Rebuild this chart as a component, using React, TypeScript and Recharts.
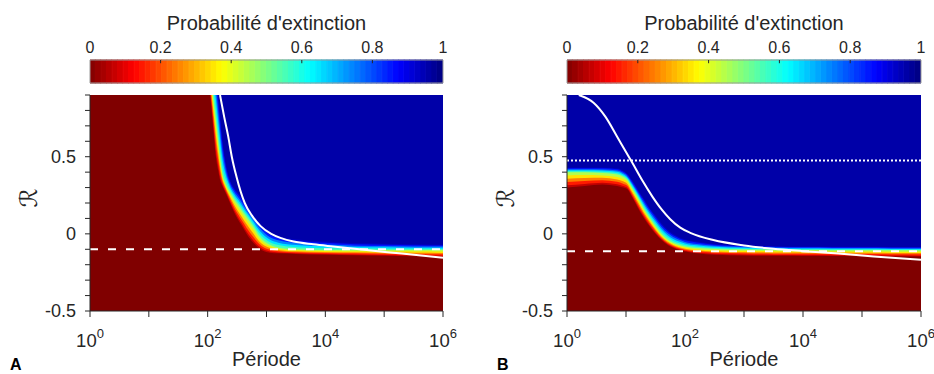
import { Area, Bar, CartesianGrid, Cell, ComposedChart, ReferenceLine, Scatter, XAxis, YAxis } from "recharts";

const POLICE = "'Liberation Sans', Arial, Helvetica, sans-serif";
const ENCRE = "#262626";

// axes
const PROBA_TICKS = [0, 0.2, 0.4, 0.6, 0.8, 1];
const PERIODE_TICKS = [1, 10, 100, 1e3, 1e4, 1e5, 1e6];
const R_TICKS = [-0.5, -0.4, -0.3, -0.2, -0.1, 0, 0.1, 0.2, 0.3, 0.4, 0.5, 0.6, 0.7, 0.8, 0.9];
const R_LABELS = [-0.5, 0, 0.5];

// probabilité d'extinction : contours lus sur la carte
// lo ~ p=0.03 (bord du rouge foncé), mid ~ p=0.5, hi ~ p=0.97 (début du bleu foncé)
const A_LOGP = [0, 1, 2.0, 2.04, 2.1, 2.14, 2.18, 2.21, 2.25, 2.3, 2.38, 2.45, 2.55, 2.6, 2.66, 2.78, 2.86, 2.97, 3.06, 3.2, 3.5, 4, 4.5, 5, 5.5, 6];
const A_LO = [1.0, 1.0, 1.0, 0.9, 0.66, 0.5, 0.41, 0.35, 0.31, 0.27, 0.2, 0.14, 0.07, 0.04, 0.0, -0.06, -0.09, -0.115, -0.122, -0.126, -0.13, -0.135, -0.138, -0.142, -0.145, -0.148];
const A_MID = [1.2, 1.2, 1.2, 1.06, 0.87, 0.74, 0.6, 0.5, 0.39, 0.33, 0.27, 0.225, 0.17, 0.14, 0.11, 0.045, -0.005, -0.05, -0.07, -0.088, -0.1, -0.104, -0.105, -0.105, -0.105, -0.105];
const A_HI = [1.4, 1.4, 1.4, 1.3, 1.15, 1.05, 0.9, 0.78, 0.62, 0.48, 0.35, 0.3, 0.25, 0.22, 0.18, 0.12, 0.08, 0.035, 0.005, -0.015, -0.035, -0.05, -0.06, -0.064, -0.068, -0.07];
const A_SEUIL = -0.1;

// courbe théorique (blanche)
const A_COURBE_LOGP = [2.21, 2.28, 2.35, 2.41, 2.49, 2.63, 2.75, 2.9, 3.08, 3.25, 3.46, 3.8, 4.13, 4.7, 5.3, 6.0];
const A_COURBE_R = [0.9, 0.76, 0.63, 0.5, 0.37, 0.2, 0.12, 0.05, 0.0, -0.028, -0.05, -0.068, -0.082, -0.105, -0.128, -0.155];

const B_LOGP = [0, 0.3, 0.6, 0.85, 0.95, 1.02, 1.1, 1.2, 1.3, 1.4, 1.5, 1.6, 1.7, 1.8, 1.9, 2.0, 2.2, 2.5, 3, 3.5, 4, 4.5, 5, 5.5, 6];
const B_LO = [0.3, 0.31, 0.32, 0.31, 0.3, 0.29, 0.24, 0.17, 0.105, 0.05, 0.0, -0.04, -0.07, -0.09, -0.105, -0.115, -0.125, -0.135, -0.14, -0.142, -0.143, -0.144, -0.145, -0.146, -0.147];
const B_MID = [0.4, 0.4, 0.395, 0.385, 0.37, 0.35, 0.3, 0.235, 0.165, 0.105, 0.05, 0.0, -0.035, -0.058, -0.072, -0.082, -0.092, -0.098, -0.102, -0.104, -0.105, -0.106, -0.107, -0.107, -0.108];
const B_HI = [0.43, 0.43, 0.43, 0.425, 0.41, 0.39, 0.35, 0.29, 0.23, 0.17, 0.12, 0.07, 0.03, 0.0, -0.02, -0.035, -0.05, -0.065, -0.075, -0.08, -0.082, -0.083, -0.084, -0.085, -0.085];
const B_SEUIL = -0.112;
const B_POINTILLE = 0.475;

const B_COURBE_LOGP = [0.2, 0.45, 0.65, 0.85, 1.0, 1.1, 1.27, 1.45, 1.6, 1.75, 1.92, 2.1, 2.48, 3.0, 3.5, 4.0, 4.6, 5.2, 6.0];
const B_COURBE_R = [0.9, 0.85, 0.76, 0.63, 0.53, 0.465, 0.35, 0.24, 0.16, 0.095, 0.04, 0.005, -0.04, -0.075, -0.097, -0.112, -0.128, -0.147, -0.168];

// jet inversé, pour l'ombrage entre lo/mid/hi
const NIVEAUX = [0.03, 0.1, 0.2, 0.3, 0.4, 0.5, 0.6, 0.7, 0.8, 0.9, 0.97];

function jet(p: number) {
  const t = 1 - p;
  const c = (v: number) => Math.round(255 * Math.max(0, Math.min(1, v)));
  return `rgb(${c(1.5 - Math.abs(4 * t - 3))},${c(1.5 - Math.abs(4 * t - 2))},${c(1.5 - Math.abs(4 * t - 1))})`;
}

const FOND = jet(0.96);
const PAS = Array.from({ length: 64 }, (_, i) => ({ p: (i + 0.5) / 64, v: 1 }));

function lignes(logp: number[], lo: number[], mid: number[], hi: number[]) {
  return logp.map((e, i) => {
    const row: Record<string, number> = { P: Math.pow(10, e) };
    NIVEAUX.forEach((p, k) => {
      row["c" + k] =
        p <= 0.5
          ? lo[i] + ((p - 0.03) / 0.47) * (mid[i] - lo[i])
          : mid[i] + ((p - 0.5) / 0.47) * (hi[i] - mid[i]);
    });
    return row;
  });
}

function courbe(logp: number[], r: number[]) {
  return logp.map((e, i) => ({ P: Math.pow(10, e), R: r[i] }));
}

function TickPeriode(props: any) {
  const { x, y, payload } = props;
  const n = Math.round(Math.log10(payload.value));
  if (n % 2 !== 0) return <g />;
  return (
    <text x={x} y={y + 28} textAnchor="middle" fill={ENCRE} fontSize={18.5} fontFamily={POLICE}>
      <tspan>10</tspan>
      <tspan dy={-9} fontSize={13}>{n}</tspan>
    </text>
  );
}

function Panneau({ left, width, yw, mr, rows, ligne, seuil, pointille }: any) {
  const plotW = width - yw - mr;
  return (
    <div style={{ position: "absolute", left, top: 0, width, height: 374 }}>
      {/* barre de couleur */}
      <div style={{ position: "absolute", left: 0, top: 0 }}>
        <ComposedChart width={width} height={90} data={PAS} margin={{ top: 0, right: mr, bottom: 7, left: yw }} barGap={0} barCategoryGap={0}>
          <XAxis
            dataKey="p"
            type="number"
            orientation="top"
            domain={[0, 1]}
            allowDataOverflow
            ticks={PROBA_TICKS}
            interval={0}
            height={60}
            axisLine={false}
            tickLine={false}
            tickSize={6}
            tickMargin={1}
            tick={{ fontSize: 16, fill: ENCRE, fontFamily: POLICE }}
            label={{ value: "Probabilité d'extinction", position: "insideTop", offset: 16, fontSize: 20, fill: ENCRE, fontFamily: POLICE }}
          />
          <YAxis type="number" domain={[0, 1]} hide />
          <Bar dataKey="v" barSize={plotW / 64} isAnimationActive={false}>
            {PAS.map((s, i) => (
              <Cell key={i} fill={jet(s.p)} stroke={jet(s.p)} strokeWidth={1.2} />
            ))}
          </Bar>
          <ReferenceLine segment={[{ x: 0, y: 0 }, { x: 1, y: 0 }]} stroke="#9a9a9a" />
          <ReferenceLine segment={[{ x: 0, y: 1 }, { x: 1, y: 1 }]} stroke="#9a9a9a" />
          <ReferenceLine segment={[{ x: 0, y: 0 }, { x: 0, y: 1 }]} stroke="#9a9a9a" />
          <ReferenceLine segment={[{ x: 1, y: 0 }, { x: 1, y: 1 }]} stroke="#9a9a9a" />
          {PROBA_TICKS.slice(1, -1).map((t) => (
            <ReferenceLine key={t} segment={[{ x: t, y: 1 }, { x: t, y: 0.86 }]} stroke={ENCRE} />
          ))}
        </ComposedChart>
      </div>
      {/* carte */}
      <div style={{ position: "absolute", left: 0, top: 90 }}>
        <ComposedChart width={width} height={284} data={rows} margin={{ top: 5, right: mr, bottom: 0, left: 0 }}>
          <CartesianGrid horizontal={false} vertical={false} fill={FOND} fillOpacity={1} stroke="none" />
          <XAxis
            dataKey="P"
            type="number"
            scale="log"
            domain={[1, 1e6]}
            allowDataOverflow
            ticks={PERIODE_TICKS}
            interval={0}
            height={63}
            tickSize={6}
            tickMargin={2}
            axisLine={{ stroke: ENCRE }}
            tickLine={{ stroke: ENCRE }}
            tick={(p: any) => <TickPeriode {...p} />}
            label={{ value: "Période", position: "insideBottom", offset: 8, fontSize: 20, fill: ENCRE, fontFamily: POLICE }}
          />
          <YAxis
            type="number"
            domain={[-0.5, 0.9]}
            allowDataOverflow
            ticks={R_TICKS}
            interval={0}
            width={yw}
            tickSize={5}
            tickMargin={9}
            axisLine={{ stroke: ENCRE }}
            tickLine={{ stroke: ENCRE }}
            tick={{ fontSize: 18, fill: ENCRE, fontFamily: POLICE }}
            tickFormatter={(v: number) => (R_LABELS.includes(v) ? String(v) : "")}
            label={{
              content: (lp: any) => {
                const vb = lp.viewBox;
                const cx = vb.x + vb.width - 61;
                const cy = vb.y + vb.height / 2 - 5;
                return (
                  <text
                    x={cx}
                    y={cy}
                    transform={`rotate(-90 ${cx} ${cy})`}
                    textAnchor="middle"
                    dominantBaseline="central"
                    fontSize={24}
                    fill={ENCRE}
                    fontFamily="'DejaVu Sans', sans-serif"
                  >
                    ℛ
                  </text>
                );
              },
            }}
          />
          {NIVEAUX.map((_, j) => {
            const k = NIVEAUX.length - 1 - j;
            const p = k === 0 ? 0 : (NIVEAUX[k - 1] + NIVEAUX[k]) / 2;
            return (
              <Area
                key={k}
                dataKey={"c" + k}
                type="monotone"
                baseValue="dataMin"
                stroke="none"
                fill={jet(p)}
                fillOpacity={1}
                dot={false}
                activeDot={false}
                isAnimationActive={false}
              />
            );
          })}
          <ReferenceLine y={seuil} stroke="#fff" strokeWidth={2} strokeDasharray="8 10" />
          {pointille !== undefined && (
            <ReferenceLine y={pointille} stroke="#fff" strokeWidth={2} strokeDasharray="2 2" />
          )}
          <Scatter
            data={ligne}
            dataKey="R"
            fill="#fff"
            line={{ stroke: "#fff", strokeWidth: 2 }}
            lineJointType="monotoneX"
            shape={() => <g />}
            isAnimationActive={false}
          />
        </ComposedChart>
      </div>
    </div>
  );
}

export default function App() {
  return (
    <div
      style={{
        position: "absolute",
        left: 0,
        top: 0,
        width: 934,
        height: 374,
        background: "#fff",
        overflow: "hidden",
        fontFamily: POLICE,
      }}
    >
      <Panneau
        left={0}
        width={460}
        yw={90}
        mr={17}
        rows={lignes(A_LOGP, A_LO, A_MID, A_HI)}
        ligne={courbe(A_COURBE_LOGP, A_COURBE_R)}
        seuil={A_SEUIL}
      />
      <Panneau
        left={470}
        width={464}
        yw={97}
        mr={13}
        rows={lignes(B_LOGP, B_LO, B_MID, B_HI)}
        ligne={courbe(B_COURBE_LOGP, B_COURBE_R)}
        seuil={B_SEUIL}
        pointille={B_POINTILLE}
      />
      <svg width={934} height={374} style={{ position: "absolute", left: 0, top: 0, pointerEvents: "none" }}>
        <text x={10} y={370} fontSize={16} fontWeight="bold" fill="#000" fontFamily={POLICE}>A</text>
        <text x={497} y={370} fontSize={16} fontWeight="bold" fill="#000" fontFamily={POLICE}>B</text>
      </svg>
    </div>
  );
}
